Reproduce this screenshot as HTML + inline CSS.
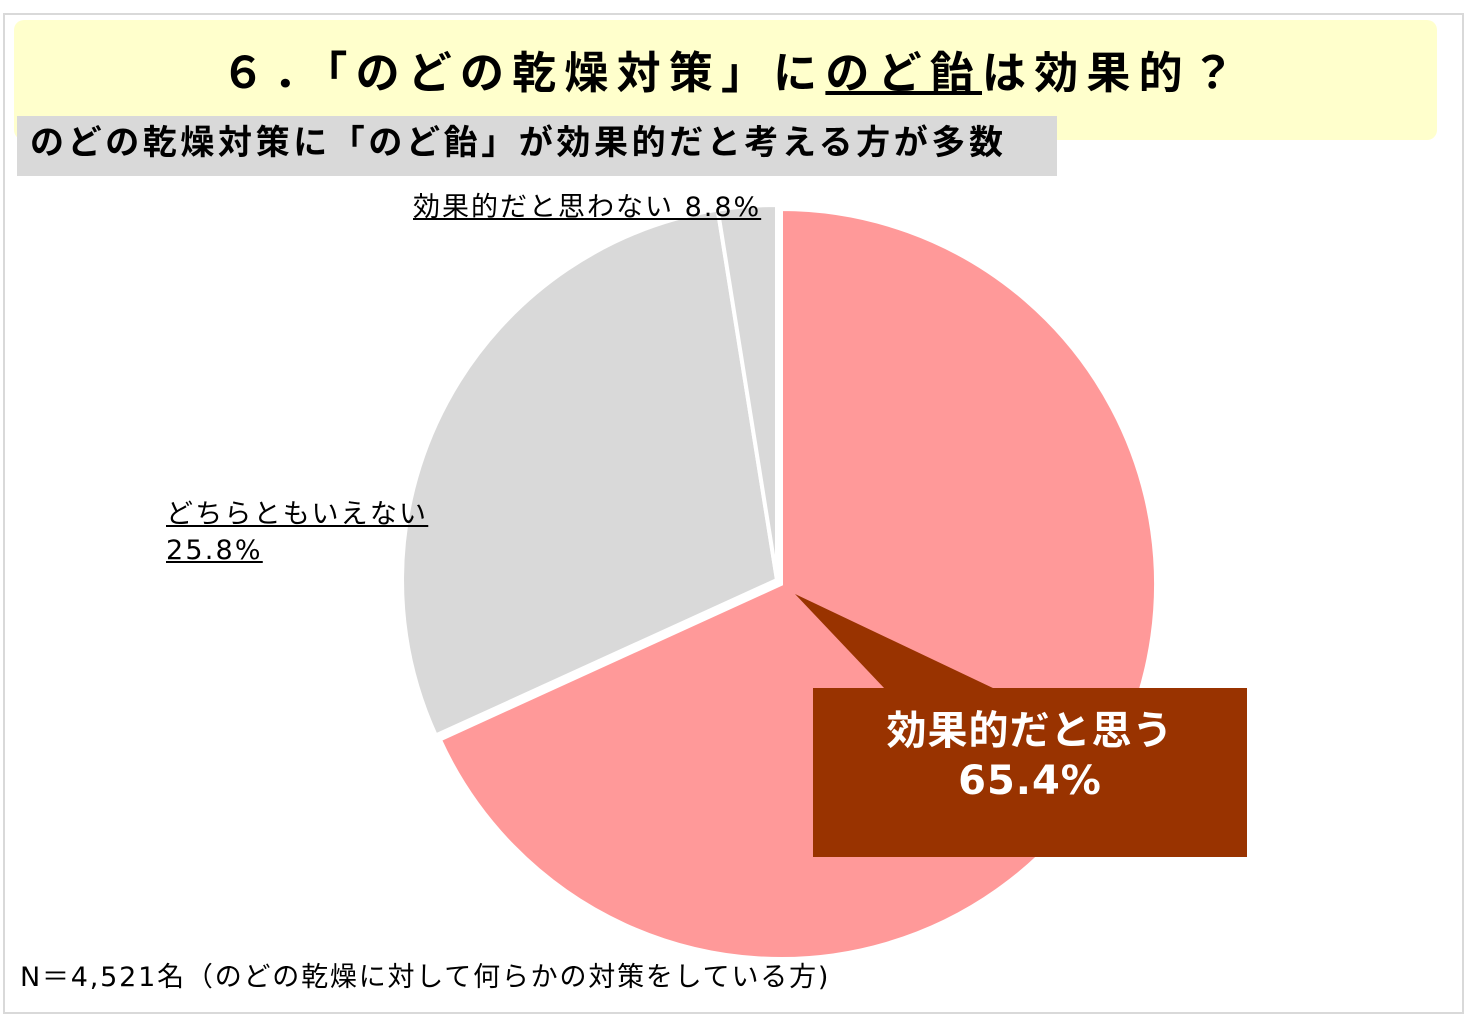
<!DOCTYPE html>
<html><head><meta charset="utf-8"><style>
body{margin:0;width:1464px;height:1017px;background:#fff;position:relative;overflow:hidden;font-family:"DejaVu Sans","Noto Sans CJK JP",sans-serif}
.a{position:absolute;white-space:nowrap}
</style></head><body>
<div class="a" style="left:3px;top:13px;width:1457px;height:997px;border:2px solid #d9d9d9"></div>
<div class="a" style="left:14px;top:20px;width:1423px;height:120px;background:#ffffcc;border-radius:10px"></div>
<div class="a" style="left:0;width:1464px;top:44px;text-align:center;font-size:44px;font-weight:bold;line-height:60px;color:#000;letter-spacing:8.2px">６．「のどの乾燥対策」に<u>のど飴</u>は効果的？</div>
<div class="a" style="left:17px;top:116px;width:1040px;height:60px;background:#d9d9d9"></div>
<div class="a" style="left:30px;top:118px;font-size:34px;font-weight:bold;line-height:50px;letter-spacing:3.6px">のどの乾燥対策に「のど飴」が効果的だと考える方が多数</div>
<svg class="a" style="left:0;top:0" width="1464" height="1017">
<path d="M781,584 L781,209 A375,375 0 1 1 439.8,739.5 Z" fill="#ff9999" stroke="#fff" stroke-width="4"/>
<path d="M777,580 L435.8,735.5 A375,375 0 0 1 717.7,209.7 Z" fill="#d9d9d9" stroke="#fff" stroke-width="4"/>
<path d="M777,580 L717.7,209.7 A375,375 0 0 1 777,205 Z" fill="#d9d9d9" stroke="#fff" stroke-width="4"/>
<polygon points="795,594 885,689 995,689" fill="#993300"/>
<rect x="813" y="688" width="434" height="169" fill="#993300"/>
</svg>
<div class="a" style="left:813px;top:706px;width:434px;text-align:center;color:#fff;font-weight:bold;font-size:40px;line-height:50px;letter-spacing:1px">効果的だと思う<br>65.4%</div>
<div class="a" style="left:413px;top:190px;font-size:27px;line-height:36px;text-decoration:underline;letter-spacing:2px">効果的だと思わない 8.8%</div>
<div class="a" style="left:166px;top:497px;font-size:27px;line-height:36px;text-decoration:underline;letter-spacing:2.2px">どちらともいえない<br>25.8%</div>
<div class="a" style="left:20px;top:960px;font-size:27px;line-height:36px;letter-spacing:1.8px">N＝4,521名（のどの乾燥に対して何らかの対策をしている方)</div>
</body></html>
